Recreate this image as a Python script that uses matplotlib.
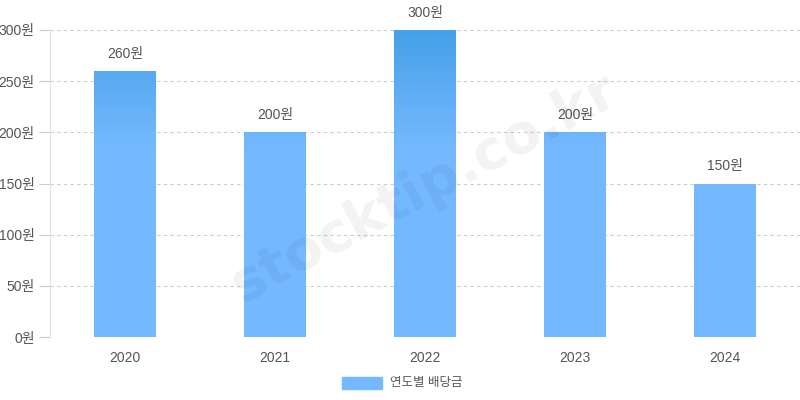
import matplotlib
matplotlib.use("Agg")
import matplotlib.pyplot as plt
import numpy as np
from matplotlib.colors import LinearSegmentedColormap
from matplotlib.patches import Rectangle

plt.rcParams['font.family'] = ['Liberation Sans', 'Noto Sans CJK KR', 'DejaVu Sans']

years = ['2020', '2021', '2022', '2023', '2024']
dividends = [260, 200, 300, 200, 150]
y_ticks = [0, 50, 100, 150, 200, 250, 300]
legend_label = '연도별 배당금'
unit = '원'

fig = plt.figure(figsize=(8, 4), dpi=100)
ax = fig.add_axes([0.0625, 0.1575, 0.9375, 0.7675])

x = np.arange(len(years))
bars = ax.bar(x, dividends, width=0.41, color='#74b9ff', zorder=2)

# gradient (dark at top of scale -> light)
cmap = LinearSegmentedColormap.from_list('g', ['#74b9ff', '#46a0e8'])
grad = np.linspace(0, 1, 256).reshape(-1, 1)
grad = np.clip((grad - 0.62) / 0.38, 0, 1)
for b in bars:
    im = ax.imshow(grad, aspect='auto', cmap=cmap, origin='lower',
                   extent=[b.get_x(), b.get_x() + b.get_width(), 0, 300],
                   zorder=2.5, vmin=0, vmax=1)
    im.set_clip_path(b)

ax.set_xlim(-0.5, len(years) - 0.5)
ax.set_ylim(0, 300)
ax.set_yticks(y_ticks)
ax.set_yticklabels([f'{v}{unit}' for v in y_ticks])
ax.set_xticks(x)
ax.set_xticklabels(years)

ax.grid(axis='y', color='#cccccc', linestyle=(0, (3, 3)), linewidth=0.8, zorder=0)
ax.tick_params(axis='y', length=8, color='#cccccc', labelsize=10, labelcolor='#555555', pad=3)
ax.tick_params(axis='x', length=0, labelsize=10, labelcolor='#555555', pad=10)
for s in ['top', 'right', 'bottom']:
    ax.spines[s].set_visible(False)
ax.spines['left'].set_color('#e0e0e0')

for xi, v in zip(x, dividends):
    ax.text(xi, v + 10, f'{v}{unit}', ha='center', va='bottom', fontsize=10, color='#555555')

# watermark
fig.text(0.53, 0.53, 'stocktip.co.kr', fontsize=40, fontweight='bold', color='#000000',
         alpha=0.05, rotation=28, ha='center', va='center', family='DejaVu Sans')

# legend
fig.patches.append(Rectangle((342 / 800, 1 - 389 / 400), 40 / 800, 12 / 400,
                             transform=fig.transFigure, color='#74b9ff'))
fig.text(390 / 800, 1 - 383 / 400, legend_label, fontsize=9, color='#555555', va='center', ha='left')

fig.savefig('out.png', dpi=100)
